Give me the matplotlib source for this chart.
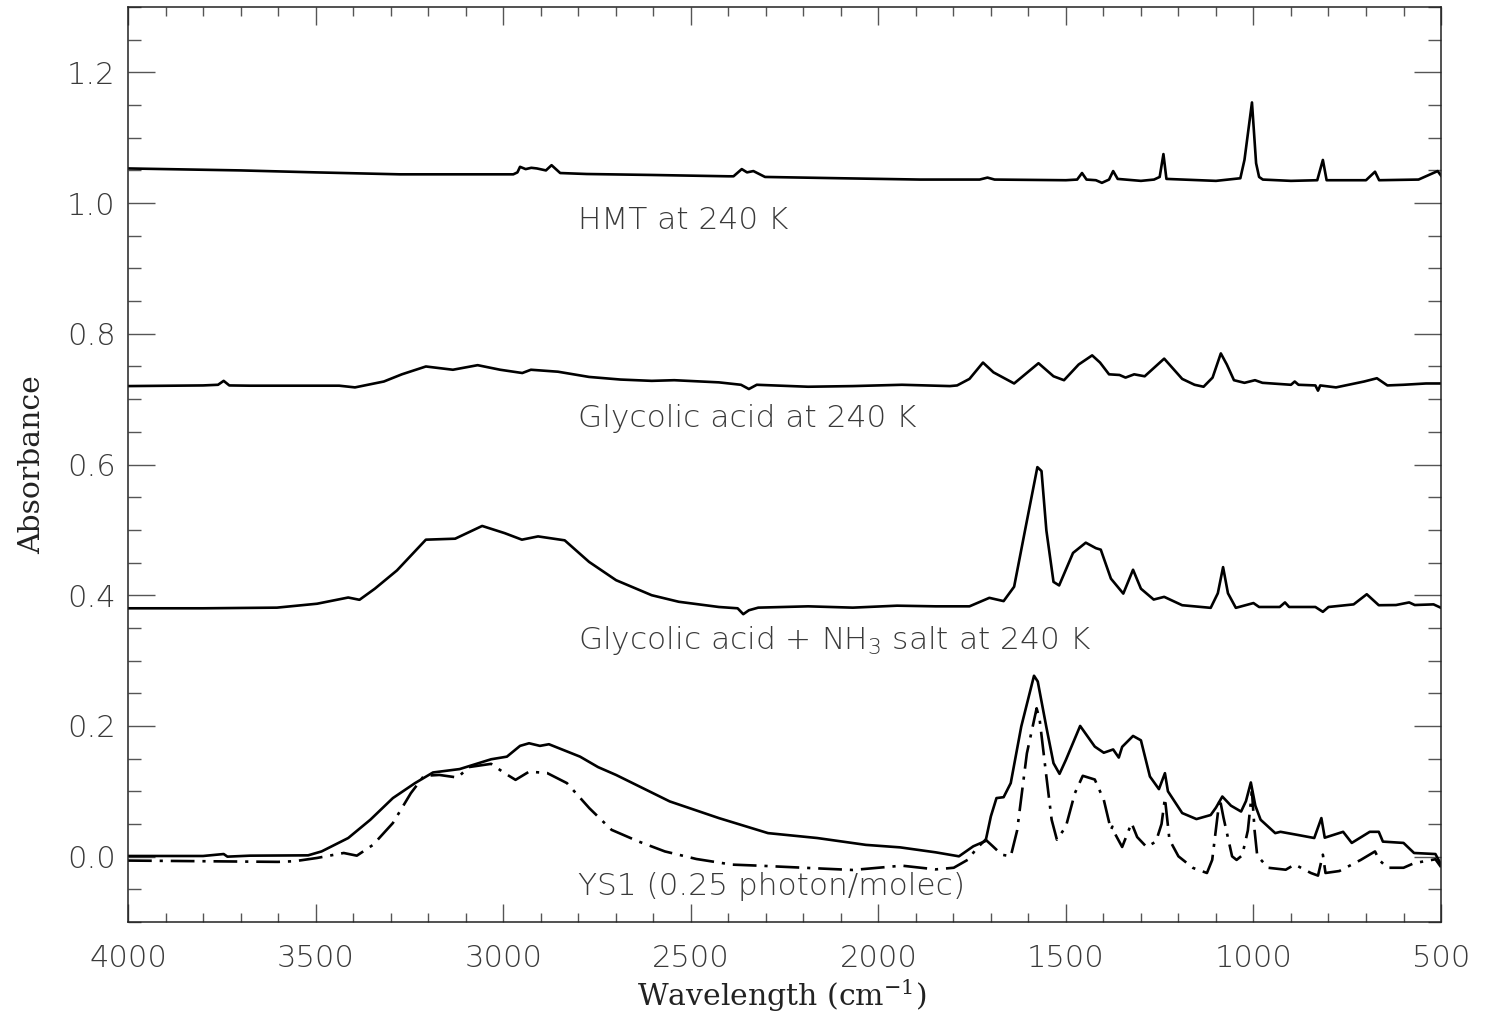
import matplotlib

matplotlib.use("Agg")
import matplotlib.pyplot as plt
from matplotlib.ticker import MultipleLocator

plt.rcParams["mathtext.default"] = "regular"

# HMT at 240 K
hmt_wn = [4000, 3700, 3500, 3275, 2973, 2962, 2955, 2940, 2925, 2910, 2886, 2871, 2848,
          2777, 2600, 2400, 2386, 2364, 2350, 2333, 2302, 2100, 1889, 1730, 1709, 1690,
          1500, 1470, 1457, 1445, 1420, 1404, 1385, 1374, 1362, 1300, 1265, 1250, 1240,
          1232, 1100, 1035, 1024, 1004, 993, 985, 975, 900, 830, 815, 805, 780, 700, 676,
          665, 560, 509, 500]
hmt_abs = [1.053, 1.050, 1.047, 1.044, 1.044, 1.047, 1.0555, 1.052, 1.054, 1.053, 1.050,
           1.058, 1.046, 1.0445, 1.043, 1.041, 1.041, 1.052, 1.047, 1.049, 1.040, 1.038,
           1.036, 1.036, 1.039, 1.036, 1.035, 1.036, 1.046, 1.036, 1.035, 1.031, 1.036,
           1.049, 1.037, 1.034, 1.036, 1.040, 1.075, 1.037, 1.034, 1.038, 1.066, 1.154,
           1.061, 1.040, 1.036, 1.034, 1.035, 1.066, 1.035, 1.035, 1.035, 1.048, 1.035,
           1.036, 1.049, 1.042]

# Glycolic acid at 240 K
ga_wn = [4000, 3800, 3760, 3745, 3730, 3675, 3437, 3395, 3318, 3270, 3206, 3134, 3068,
         3008, 2949, 2926, 2854, 2771, 2687, 2604, 2544, 2425, 2366, 2345, 2324, 2187,
         2068, 1937, 1809, 1790, 1757, 1721, 1693, 1638, 1573, 1533, 1505, 1466, 1430,
         1409, 1385, 1357, 1341, 1318, 1290, 1238, 1190, 1157, 1133, 1109, 1087, 1071,
         1052, 1024, 996, 976, 900, 890, 880, 835, 828, 822, 780, 705, 671, 643, 600, 540,
         500]
ga_abs = [0.720, 0.721, 0.722, 0.728, 0.721, 0.7206, 0.7206, 0.718, 0.727, 0.738, 0.750,
          0.745, 0.752, 0.745, 0.740, 0.745, 0.742, 0.734, 0.730, 0.728, 0.729, 0.7257,
          0.722, 0.7155, 0.722, 0.719, 0.720, 0.722, 0.720, 0.721, 0.731, 0.756, 0.741,
          0.724, 0.755, 0.735, 0.729, 0.753, 0.767, 0.756, 0.738, 0.737, 0.733, 0.738,
          0.735, 0.762, 0.731, 0.722, 0.719, 0.733, 0.770, 0.753, 0.729, 0.725, 0.729,
          0.725, 0.722, 0.727, 0.722, 0.721, 0.713, 0.721, 0.718, 0.727, 0.732, 0.721,
          0.722, 0.724, 0.724]

# Glycolic acid + NH3 salt at 240 K
gn_wn = [4000, 3800, 3603, 3496, 3413, 3383, 3342, 3283, 3206, 3128, 3056, 2996, 2950,
         2907, 2836, 2771, 2699, 2604, 2532, 2425, 2375, 2360, 2345, 2320, 2187, 2068,
         1950, 1847, 1757, 1704, 1666, 1638, 1609, 1576, 1565, 1552, 1533, 1518, 1481,
         1447, 1420, 1407, 1380, 1347, 1321, 1300, 1266, 1238, 1190, 1114, 1095, 1081,
         1068, 1047, 1000, 985, 930, 916, 905, 835, 815, 800, 733, 698, 666, 620, 585,
         570, 520, 500]
gn_abs = [0.380, 0.380, 0.381, 0.387, 0.3965, 0.393, 0.410, 0.438, 0.485, 0.4865, 0.506,
          0.495, 0.485, 0.490, 0.484, 0.451, 0.423, 0.400, 0.390, 0.382, 0.380, 0.371,
          0.377, 0.381, 0.383, 0.381, 0.384, 0.383, 0.383, 0.396, 0.391, 0.413, 0.499,
          0.596, 0.590, 0.499, 0.4204, 0.415, 0.4647, 0.4804, 0.472, 0.4697, 0.4254,
          0.4025, 0.439, 0.410, 0.3934, 0.3975, 0.3847, 0.3807, 0.403, 0.443, 0.403,
          0.3807, 0.388, 0.382, 0.382, 0.389, 0.382, 0.382, 0.3746, 0.382, 0.386, 0.4015,
          0.3847, 0.385, 0.389, 0.385, 0.386, 0.3807]

# YS1 (0.25 photon/molec), solid
ys1_wn = [4000, 3800, 3745, 3735, 3675, 3520, 3484, 3413, 3354, 3294, 3235, 3187, 3116,
          3032, 2990, 2955, 2931, 2902, 2878, 2795, 2747, 2699, 2556, 2425, 2294, 2163,
          2033, 1942, 1847, 1785, 1747, 1714, 1700, 1685, 1666, 1647, 1619, 1585, 1575,
          1552, 1533, 1517, 1500, 1462, 1423, 1399, 1374, 1359, 1350, 1321, 1300, 1276,
          1252, 1236, 1228, 1190, 1152, 1114, 1100, 1083, 1060, 1033, 1020, 1007, 995,
          981, 942, 928, 880, 838, 819, 810, 761, 738, 690, 666, 655, 600, 572, 515, 500]
ys1_abs = [0.001, 0.001, 0.004, 0.0, 0.0015, 0.002, 0.008, 0.0285, 0.0565, 0.0896,
           0.1125, 0.1288, 0.134, 0.149, 0.153, 0.1695, 0.1735, 0.1695, 0.172, 0.153,
           0.137, 0.125, 0.0845, 0.059, 0.036, 0.0285, 0.018, 0.0142, 0.0066, 0.0005,
           0.0158, 0.024, 0.0616, 0.0896, 0.091, 0.1125, 0.199, 0.2768, 0.268, 0.198,
           0.143, 0.1267, 0.148, 0.200, 0.1684, 0.159, 0.164, 0.1516, 0.168, 0.1847,
           0.178, 0.1226, 0.1033, 0.1277, 0.100, 0.0667, 0.0575, 0.0637, 0.075, 0.092,
           0.078, 0.069, 0.085, 0.1135, 0.078, 0.0565, 0.036, 0.038, 0.033, 0.0285,
           0.059, 0.029, 0.038, 0.021, 0.038, 0.038, 0.023, 0.021, 0.0056, 0.004, -0.012]

# second YS1 spectrum, dash-dot
ys1b_wn = [4000, 3800, 3600, 3556, 3496, 3425, 3390, 3347, 3294, 3246, 3211, 3170, 3121,
           3092, 3032, 2996, 2967, 2931, 2883, 2830, 2770, 2711, 2640, 2569, 2485, 2390,
           2318, 2187, 2068, 1937, 1847, 1799, 1761, 1737, 1714, 1695, 1671, 1647, 1630,
           1604, 1578, 1570, 1552, 1538, 1524, 1500, 1476, 1455, 1423, 1399, 1380, 1376,
           1370, 1350, 1325, 1310, 1285, 1260, 1245, 1236, 1224, 1200, 1161, 1124, 1110,
           1090, 1080, 1057, 1045, 1030, 1015, 1004, 997, 990, 961, 914, 890, 847, 828,
           815, 808, 771, 714, 676, 665, 643, 600, 572, 515, 500]
ys1b_abs = [-0.006, -0.007, -0.008, -0.007, -0.002, 0.0056, 0.0015, 0.018, 0.0514,
            0.0972, 0.1237, 0.125, 0.121, 0.137, 0.142, 0.1277, 0.1175, 0.130, 0.128,
            0.1125, 0.074, 0.041, 0.0234, 0.008, -0.0036, -0.0122, -0.0138, -0.0173,
            -0.0204, -0.0138, -0.0195, -0.017, -0.0046, 0.0132, 0.026, 0.016, 0.003,
            0.0005, 0.04, 0.158, 0.227, 0.21, 0.1226, 0.0565, 0.026, 0.046, 0.0972,
            0.1237, 0.118, 0.087, 0.041, 0.046, 0.036, 0.0148, 0.0514, 0.030, 0.0148,
            0.023, 0.05, 0.0896, 0.026, 0.0005, -0.0173, -0.025, -0.005, 0.0896, 0.06,
            0.0005, -0.005, 0.002, 0.04, 0.0997, 0.04, 0.0015, -0.017, -0.020, -0.012,
            -0.025, -0.029, 0.003, -0.025, -0.022, -0.005, 0.008, -0.005, -0.017, -0.017,
            -0.010, -0.004, -0.016]

labels = ["HMT at 240 K", "Glycolic acid at 240 K",
          "Glycolic acid + NH$_3$ salt at 240 K", "YS1 (0.25 photon/molec)"]
label_y = [0.960, 0.657, 0.3175, -0.058]

sans = ["DejaVu Sans"]
serif = ["DejaVu Serif"]
text_color = "#3a3a3a"

fig = plt.figure(figsize=(14.85, 10.18), dpi=100)
ax = fig.add_axes([0.0862, 0.0943, 0.8842, 0.8988])

lw = 1.9
ax.plot(hmt_wn, hmt_abs, color="black", lw=lw)
ax.plot(ga_wn, ga_abs, color="black", lw=lw)
ax.plot(gn_wn, gn_abs, color="black", lw=lw)
ax.plot(ys1_wn, ys1_abs, color="black", lw=lw)
ax.plot(ys1b_wn, ys1b_abs, color="black", lw=lw, linestyle=(0, (9, 3, 1.2, 3)))

for text, y in zip(labels, label_y):
    ax.text(2800, y, text, ha="left", va="baseline", fontsize=22.5,
            family=sans, weight="light", color=text_color)

ax.set_xlim(4000, 500)
ax.set_ylim(-0.1, 1.3)

ax.xaxis.set_major_locator(MultipleLocator(500))
ax.xaxis.set_minor_locator(MultipleLocator(100))
ax.set_yticks([0.0, 0.2, 0.4, 0.6, 0.8, 1.0, 1.2])
ax.set_yticklabels(["0.0", "0.2", "0.4", "0.6", "0.8", "1.0", "1.2"])
ax.yaxis.set_minor_locator(MultipleLocator(0.05))

ax.tick_params(axis="both", which="both", direction="in", top=True, right=True,
               color="#555555", width=1.0)
ax.tick_params(axis="x", which="major", length=13, pad=16)
ax.tick_params(axis="x", which="minor", length=6.5)
ax.tick_params(axis="y", which="major", length=19.5, pad=9)
ax.tick_params(axis="y", which="minor", length=9.5)

for lab in ax.get_xticklabels() + ax.get_yticklabels():
    lab.set_fontfamily(sans)
    lab.set_fontweight("light")
    lab.set_fontsize(22)
    lab.set_color(text_color)

for spine in ax.spines.values():
    spine.set_linewidth(1.1)
    spine.set_color("#222222")

ax.set_xlabel("Wavelength (cm$^{-1}$)", family=serif, fontsize=21.5, color="#222222")
ax.set_ylabel("Absorbance", family=serif, fontsize=21.5, color="#222222")
ax.xaxis.set_label_coords(0.498, -0.060)
ax.yaxis.set_label_coords(-0.062, 0.5)

fig.savefig("out.png", dpi=100)
plt.close(fig)
